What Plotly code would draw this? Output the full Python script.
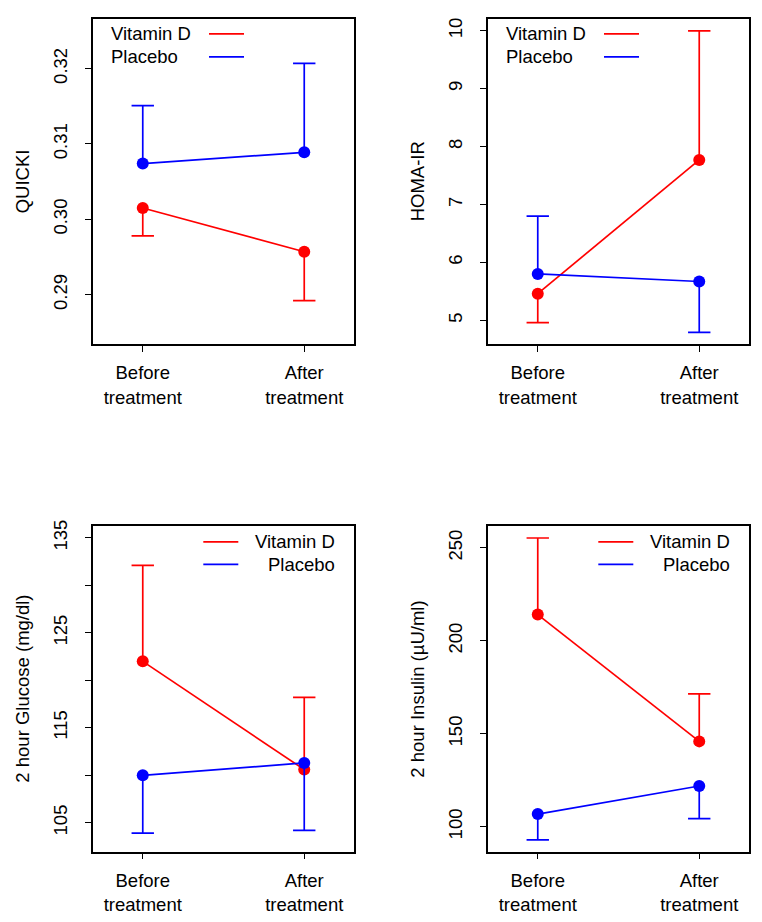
import plotly.graph_objects as go

# ---------------- data ----------------
x_pos = [1, 2]
x_labels = ["Before<br>treatment", "After<br>treatment"]
series_names = ["Vitamin D", "Placebo"]

quicki_vitd = [0.3015, 0.2957]
quicki_vitd_up = [0.0, 0.0]
quicki_vitd_down = [0.0037, 0.0065]
quicki_plac = [0.3074, 0.3089]
quicki_plac_up = [0.0077, 0.0118]
quicki_plac_down = [0.0, 0.0]

homa_vitd = [5.46, 7.77]
homa_vitd_up = [0.0, 2.23]
homa_vitd_down = [0.50, 0.0]
homa_plac = [5.80, 5.67]
homa_plac_up = [1.00, 0.0]
homa_plac_down = [0.0, 0.88]

glu_vitd = [122.0, 110.6]
glu_vitd_up = [10.1, 7.6]
glu_vitd_down = [0.0, 0.0]
glu_plac = [110.0, 111.3]
glu_plac_up = [0.0, 0.0]
glu_plac_down = [6.1, 7.1]

ins_vitd = [214.1, 145.9]
ins_vitd_up = [41.2, 25.5]
ins_vitd_down = [0.0, 0.0]
ins_plac = [106.8, 121.9]
ins_plac_up = [0.0, 0.0]
ins_plac_down = [13.9, 17.5]

quicki_ticks = [0.29, 0.30, 0.31, 0.32]
quicki_ticktext = ["0.29", "0.30", "0.31", "0.32"]
homa_ticks = [5, 6, 7, 8, 9, 10]
homa_ticktext = ["5", "6", "7", "8", "9", "10"]
glu_ticks = [105, 110, 115, 120, 125, 130, 135]
glu_ticktext = ["105", "", "115", "", "125", "", "135"]
ins_ticks = [100, 150, 200, 250]
ins_ticktext = ["100", "150", "200", "250"]

titles = ["QUICKI", "HOMA-IR", "2 hour Glucose (mg/dl)", "2 hour Insulin (\u00b5U/ml)"]
y_ranges = [[0.2834, 0.3266], [4.583, 10.206], [101.97, 136.22], [86.65, 261.57]]

RED = "#ff0000"
BLUE = "#0000ff"
FONT = "Liberation Sans, Arial, sans-serif"
FS = 18.5

panels = [
    (quicki_vitd, quicki_vitd_up, quicki_vitd_down, quicki_plac, quicki_plac_up, quicki_plac_down,
     quicki_ticks, quicki_ticktext, "top"),
    (homa_vitd, homa_vitd_up, homa_vitd_down, homa_plac, homa_plac_up, homa_plac_down,
     homa_ticks, homa_ticktext, "top"),
    (glu_vitd, glu_vitd_up, glu_vitd_down, glu_plac, glu_plac_up, glu_plac_down,
     glu_ticks, glu_ticktext, "bottom"),
    (ins_vitd, ins_vitd_up, ins_vitd_down, ins_plac, ins_plac_up, ins_plac_down,
     ins_ticks, ins_ticktext, "bottom"),
]

W, H = 762, 922
boxes = [  # left, right, top, bottom in px
    (92.7, 354.3, 12.0, 340.0),
    (487.7, 749.3, 12.0, 340.0),
    (92.7, 354.3, 523.3, 851.0),
    (487.7, 749.3, 523.3, 851.0),
]

fig = go.Figure()
annotations = []
shapes = []

for i, (vd, vdu, vdd, pl, plu, pld, tv, tt, legpos) in enumerate(panels):
    n = i + 1
    xa = "x" if n == 1 else f"x{n}"
    ya = "y" if n == 1 else f"y{n}"
    for vals, up, down, color, name in [(vd, vdu, vdd, RED, series_names[0]),
                                        (pl, plu, pld, BLUE, series_names[1])]:
        # error bar stems
        fig.add_trace(go.Scatter(
            x=x_pos, y=vals, mode="lines+markers", name=name, showlegend=False,
            xaxis=xa, yaxis=ya,
            line=dict(color=color, width=1.7),
            marker=dict(color=color, size=12, symbol="circle"),
            error_y=dict(type="data", symmetric=False, array=up, arrayminus=down,
                         color=color, thickness=1.7, width=0),
        ))
        # caps at the end of each error bar
        cx, cy = [], []
        for xv, v, u, d in zip(x_pos, vals, up, down):
            if u > 0:
                cx.append(xv); cy.append(v + u)
            if d > 0:
                cx.append(xv); cy.append(v - d)
        fig.add_trace(go.Scatter(
            x=cx, y=cy, mode="markers", showlegend=False, hoverinfo="skip",
            xaxis=xa, yaxis=ya,
            marker=dict(symbol="line-ew", size=16, line=dict(color=color, width=1.7)),
        ))

    l, r, t, b = boxes[i]
    xdom = [l / W, r / W]
    ydom = [1 - b / H, 1 - t / H]
    axis_common = dict(showline=True, mirror=True, linecolor="black", linewidth=1.7,
                       ticks="outside", ticklen=6, tickwidth=1.4, tickcolor="black",
                       showgrid=False, zeroline=False,
                       tickfont=dict(family=FONT, size=FS, color="black"))
    key_x = "xaxis" if n == 1 else f"xaxis{n}"
    key_y = "yaxis" if n == 1 else f"yaxis{n}"
    fig.layout[key_x] = dict(domain=xdom, anchor=ya, range=[0.69, 2.31],
                             tickvals=x_pos, ticktext=x_labels, ticklabelstandoff=5,
                             **axis_common)
    fig.layout[key_y] = dict(domain=ydom, anchor=xa, range=y_ranges[i],
                             tickvals=tv, ticktext=tt, tickangle=-90,
                             ticklabelstandoff=10, **axis_common)

    xd = f"{xa} domain"
    yd = f"{ya} domain"
    annotations.append(dict(text=titles[i], xref=xd, yref=yd, x=0, y=0.5, xshift=-70,
                            textangle=-90, showarrow=False, xanchor="center", yanchor="middle",
                            font=dict(family=FONT, size=FS, color="black")))
    if legpos == "top":
        for name, color, yy in [(series_names[0], RED, 0.9543), (series_names[1], BLUE, 0.8832)]:
            annotations.append(dict(text=name, xref=xd, yref=yd, x=0.0623, y=yy,
                                    xanchor="left", yanchor="middle", showarrow=False,
                                    font=dict(family=FONT, size=FS, color="black")))
            shapes.append(dict(type="line", xref=xd, yref=yd, x0=0.4446, x1=0.5784,
                               y0=yy, y1=yy, line=dict(color=color, width=1.7)))
    else:
        for name, color, yy in [(series_names[0], RED, 0.952), (series_names[1], BLUE, 0.883)]:
            annotations.append(dict(text=name, xref=xd, yref=yd, x=0.935, y=yy,
                                    xanchor="right", yanchor="middle", showarrow=False,
                                    font=dict(family=FONT, size=FS, color="black")))
            shapes.append(dict(type="line", xref=xd, yref=yd, x0=0.4228, x1=0.5566,
                               y0=yy, y1=yy, line=dict(color=color, width=1.7)))

fig.update_layout(
    width=W, height=H, margin=dict(l=0, r=0, t=0, b=0),
    paper_bgcolor="white", plot_bgcolor="white",
    annotations=annotations, shapes=shapes, showlegend=False,
    font=dict(family=FONT, size=FS, color="black"),
)

fig.write_html("out.html", config={"displayModeBar": False},
               post_script="document.body.style.margin='0';document.body.style.overflow='hidden';")
